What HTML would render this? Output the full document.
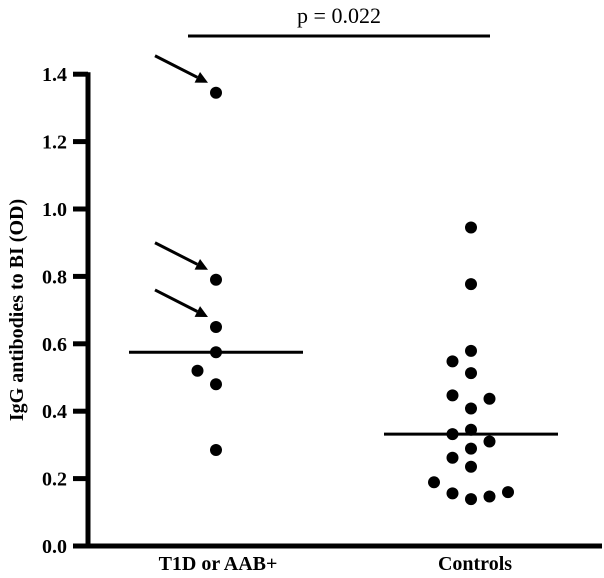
<!DOCTYPE html>
<html><head><meta charset="utf-8"><style>
body{margin:0;background:#fff;}
svg{display:block;font-family:"Liberation Serif",serif;}
</style></head><body>
<svg id="chart" width="604" height="578" viewBox="0 0 604 578" xmlns="http://www.w3.org/2000/svg">
<g id="axes"></g><g id="marks"></g>
</svg>
<script>
const categories = ["T1D or AAB+", "Controls"];
const yTicks = [0.0, 0.2, 0.4, 0.6, 0.8, 1.0, 1.2, 1.4];
const yTickLabels = ["0.0","0.2","0.4","0.6","0.8","1.0","1.2","1.4"];
const groupAValues = [1.345, 0.79, 0.65, 0.575, 0.52, 0.48, 0.285];
const groupAOffsets = [0, 0, 0, 0, -1, 0, 0];
const controlValues = [0.945, 0.777, 0.579, 0.548, 0.513, 0.447, 0.437, 0.408, 0.345, 0.332, 0.31, 0.289, 0.262, 0.235, 0.189, 0.156, 0.139, 0.147, 0.16];
const controlOffsets = [0, 0, 0, -1, 0, -1, 1, 0, 0, -1, 1, 0, -1, 0, -2, -1, 0, 1, 2];
const medians = [0.575, 0.332];
const arrowTargets = [1.345, 0.79, 0.65];
const pValueText = "p = 0.022";

const NS = "http://www.w3.org/2000/svg";
const axes = document.getElementById("axes");
const marks = document.getElementById("marks");
function y(v){ return 546 - v*337; }
const catX = [216, 471];
const jitter = 18.5;
function mk(tag, attrs, parent){ const e=document.createElementNS(NS,tag); for(const k in attrs) e.setAttribute(k,attrs[k]); parent.appendChild(e); return e; }

let yl = mk("line",{x1:88,y1:y(1.4)-2,x2:88,y2:548,stroke:"#000","stroke-width":5},axes);


let xl = mk("line",{x1:86,y1:546,x2:602,y2:546,stroke:"#000","stroke-width":5},axes);


yTicks.forEach((t,i)=>{
  let tk = mk("line",{x1:73,y1:y(t),x2:88,y2:y(t),stroke:"#000","stroke-width":5},axes);
  
  
  let tx = mk("text",{x:67,y:y(t)+7,"text-anchor":"end","font-size":20,"font-weight":"bold"},axes);
  tx.textContent = yTickLabels[i];
  
  
});
let yt = mk("text",{x:0,y:0,transform:"translate(23,310) rotate(-90)","text-anchor":"middle","font-size":20,"font-weight":"bold"},axes);
yt.textContent = "IgG antibodies to BI (OD)";


const labelX = [218, 475];
categories.forEach((c,i)=>{
  let tx = mk("text",{x:labelX[i],y:570,"text-anchor":"middle","font-size":20,"font-weight":"bold"},axes);
  tx.textContent = c;
  
  
});

function drawGroup(vals, offs, gi){
  vals.forEach((v,i)=>{
    let c = mk("circle",{cx:catX[gi]+offs[i]*jitter,cy:y(v),r:6,fill:"#000"},marks);
    
    
  });
}
drawGroup(groupAValues, groupAOffsets, 0);
drawGroup(controlValues, controlOffsets, 1);

medians.forEach((m,i)=>{
  let l = mk("line",{x1:catX[i]-87,y1:y(m),x2:catX[i]+87,y2:y(m),stroke:"#000","stroke-width":3},marks);
  
  
});

arrowTargets.forEach(v=>{
  const ex = catX[0]-8, ey = y(v)-10;
  const sx = ex-53, sy = ey-27;
  const ang = Math.atan2(ey-sy, ex-sx);
  const hx = ex-12*Math.cos(ang), hy = ey-12*Math.sin(ang);
  let l = mk("line",{x1:sx,y1:sy,x2:hx,y2:hy,stroke:"#000","stroke-width":3},marks);
  
  
  const px = -Math.sin(ang), py = Math.cos(ang);
  let p = mk("polygon",{points:`${ex},${ey} ${hx+px*6},${hy+py*6} ${hx-px*6},${hy-py*6}`,fill:"#000"},marks);
  
  
});

let sl = mk("line",{x1:188,y1:36,x2:490,y2:36,stroke:"#000","stroke-width":3},marks);


let pt = mk("text",{x:339,y:23,"text-anchor":"middle","font-size":22},marks);
pt.textContent = pValueText;


</script>
</body></html>
